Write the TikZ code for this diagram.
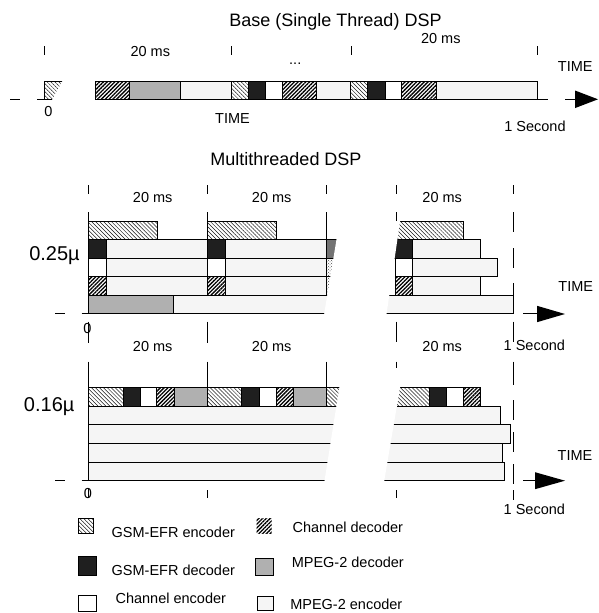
\documentclass[tikz,border=0pt]{standalone}
\usepackage{fontspec}
\setmainfont{Liberation Sans}
\usetikzlibrary{patterns,patterns.meta}
\begin{document}
\begin{tikzpicture}[x=1pt,y=-1pt,
  blk/.style={draw=black,line width=0.8pt},
  gsmenc/.style={blk,pattern={Lines[angle=-45,distance=2.8pt,line width=0.5pt]},pattern color=black!90},
  chdec/.style={blk,pattern={Lines[angle=45,distance=2.7pt,line width=1.3pt]},pattern color=black},
  gsmdec/.style={blk,fill=black!88},
  chenc/.style={blk,fill=white},
  mpdec/.style={blk,fill=black!31},
  mpenc/.style={blk,fill=black!4},
  dkgray/.style={blk,fill=black!55},
  xdots/.style={blk,pattern=crosshatch dots,pattern color=black!70},
  cut/.style={fill=white,draw=none},
  guide/.style={line width=0.9pt},
  axl/.style={line width=0.9pt},
  arrowtri/.style={fill=black},
  lbl/.style={anchor=base,inner sep=0pt,font=\fontsize{14.5}{17}\selectfont},
  ttl/.style={anchor=base,inner sep=0pt,font=\fontsize{18}{21}\selectfont},
  mul/.style={anchor=base,inner sep=0pt,font=\fontsize{20}{23}\selectfont}]
\useasboundingbox (0,0) rectangle (599,613);
\fill[white] (0,0) rectangle (599,613);

% ---------------- Base (single thread) ----------------
\draw[gsmenc] (44,81.5) rectangle (70,99.3);
\fill[cut] (63.5,79) -- (93,79) -- (93,101) -- (51.5,101) -- cycle;
\foreach \s/\a/\b in {chdec/95/129.3, mpdec/129.3/180.3, mpenc/180.3/231.3,
  gsmenc/231.3/248.3, gsmdec/248.3/265.7, chenc/265.7/282.7, chdec/282.7/316.7,
  mpenc/316.7/350.7, gsmenc/350.7/367.7, gsmdec/367.7/385, chenc/385/401.7,
  chdec/401.7/436.7, mpenc/436.7/537.7}
  \draw[\s] (\a,81.5) rectangle (\b,99.3);
\draw[axl] (10,99.3) -- (20,99.3) (37,99.3) -- (44,99.3)
  (537.7,99.3) -- (548,99.3) (565,99.3) -- (575,99.3);
\fill[arrowtri] (575,90.5) -- (598,99.3) -- (575,108.1) -- cycle;
\foreach \x in {44,231.3,351,537.7} \draw[guide] (\x,46) -- (\x,55);

% ---------------- Multithreaded 0.25 ----------------
% group 1
\draw[gsmenc] (88.3,221) rectangle (157.3,239.3);
\draw[gsmdec] (88.3,239.3) rectangle (106,258.3);
\draw[mpenc] (106,239.3) rectangle (207.3,258.3);
\draw[chenc] (88.3,258.3) rectangle (106,276.7);
\draw[mpenc] (106,258.3) rectangle (207.3,276.7);
\draw[chdec] (88.3,276.7) rectangle (106,295);
\draw[mpenc] (106,276.7) rectangle (207.3,295);
\draw[mpdec] (88.3,295) rectangle (173.3,313.3);
\draw[mpenc] (173.3,295) rectangle (360,313.3);
% group 2
\draw[gsmenc] (207.3,221) rectangle (276,239.3);
\draw[gsmdec] (207.3,239.3) rectangle (225.7,258.3);
\draw[mpenc] (225.7,239.3) rectangle (326.7,258.3);
\draw[dkgray] (326.7,239.3) rectangle (360,258.3);
\draw[chenc] (207.3,258.3) rectangle (225.7,276.7);
\draw[mpenc] (225.7,258.3) rectangle (326.7,276.7);
\draw[xdots] (326.7,258.3) rectangle (360,276.7);
\draw[chdec] (207.3,276.7) rectangle (225.7,295);
\draw[mpenc] (225.7,276.7) rectangle (326.7,295);
\draw[xdots] (326.7,276.7) rectangle (360,295);
% group 3
\draw[gsmenc] (380,221) rectangle (463.3,239.3);
\draw[gsmdec] (380,239.3) rectangle (412.7,258.3);
\draw[mpenc] (412.7,239.3) rectangle (480.7,258.3);
\draw[chenc] (395.7,258.3) rectangle (412.7,276.7);
\draw[mpenc] (412.7,258.3) rectangle (497.3,276.7);
\draw[chdec] (395.7,276.7) rectangle (412.7,295);
\draw[mpenc] (412.7,276.7) rectangle (480.7,295);
\draw[mpenc] (375,295) rectangle (513.3,313.3);
\fill[cut] (339.8,219.5) -- (400.3,219.5) -- (386.4,315) -- (324,315) -- cycle;
\draw[axl] (55,313.3) -- (65,313.3) (81.7,313.3) -- (88.3,313.3) (523.3,313.3) -- (537,313.3);
\fill[arrowtri] (537,305.8) -- (565,314) -- (537,322.2) -- cycle;

% ---------------- Multithreaded 0.16 ----------------
\foreach \s/\a/\b in {gsmenc/88.3/123.3, gsmdec/123.3/140, chenc/140/156.7,
  chdec/156.7/174, mpdec/174/207.3, gsmenc/207.3/241.7, gsmdec/241.7/259.3,
  chenc/259.3/276, chdec/276/293.3, mpdec/293.3/326.7, gsmenc/326.7/360,
  gsmenc/380/429.3, gsmdec/429.3/446.7, chenc/446.7/463.3, chdec/463.3/480.7}
  \draw[\s] (\a,387.7) rectangle (\b,406);
\foreach \a/\b in {406/424.7, 424.7/443.3, 443.3/462, 462/480.7}
  \draw[mpenc] (88.3,\a) rectangle (360,\b);
\draw[mpenc] (375,406) rectangle (500,424.7);
\draw[mpenc] (375,424.7) rectangle (510,443.3);
\draw[mpenc] (375,443.3) rectangle (502.7,462);
\draw[mpenc] (375,462) rectangle (504,480.7);
\fill[cut] (339.5,386.3) -- (400.2,386.3) -- (384,482.2) -- (324.3,482.2) -- cycle;
\draw[axl] (55,480.7) -- (65,480.7) (81.7,480.7) -- (88.3,480.7) (523.3,480.7) -- (535,480.7);
\fill[arrowtri] (535,472.2) -- (565,480.7) -- (535,489.2) -- cycle;

% ---------------- guide lines ----------------
\foreach \x/\a/\b in {
  88.3/185/194, 88.3/212/221, 88.3/321.7/343, 88.3/361.7/387.7, 88.3/488/498,
  207.3/185/194, 207.3/212/221, 207.3/321.7/343, 207.3/361.7/387.7, 207.3/490/498,
  326.7/185/194, 326.7/212/239.3, 326.7/361.7/387.7,
  396/185/194, 396/212/221, 396/321.7/342, 396/361.7/368, 396/490/498,
  513.3/185/194, 513.3/212/232, 513.3/248/268, 513.3/283/303, 513.3/321.7/342,
  513.3/361.7/385, 513.3/400/420, 513.3/432/452, 513.3/464/484, 513.3/490/500}
  \draw[guide] (\x,\a) -- (\x,\b);

% ---------------- texts ----------------
\node[ttl] (t1) at (335.5,26.3) {Base (Single Thread) DSP};
\node[lbl] (a1) at (150.3,56.7) {20 ms};
\node[lbl] (a2) at (440.8,43.3) {20 ms};
\node[lbl,anchor=base west] (dots) at (289,64.5) {...};
\node[lbl] (tm1) at (575.3,71.7) {TIME};
\node[lbl] (z1) at (48.3,116.7) {0};
\node[lbl] (tm0) at (232.5,123.2) {TIME};
\node[lbl] (s1) at (535,131.7) {1 Second};

\node[ttl] (t2) at (286,165) {Multithreaded DSP};
\node[lbl] (b1) at (152.7,202.3) {20 ms};
\node[lbl] (b2) at (271.7,202.3) {20 ms};
\node[lbl] (b3) at (442.2,202.3) {20 ms};
\node[mul] (m1) at (54.5,260.7) {0.25µ};
\node[lbl] (tm2) at (575.8,291.7) {TIME};
\node[lbl] (z2) at (87.5,333.3) {0};

\node[lbl] (c1) at (152.7,351) {20 ms};
\node[lbl] (c2) at (271.7,351) {20 ms};
\node[lbl] (c3) at (442.2,351) {20 ms};
\node[lbl,anchor=base west] (s2) at (503.5,350) {1 Second};
\node[mul] (m2) at (49.2,411.7) {0.16µ};
\node[lbl] (tm3) at (575,460) {TIME};
\node[lbl] (z3) at (88,498) {0};
\node[lbl,anchor=base west] (s3) at (503.5,514) {1 Second};

% ---------------- legend ----------------
\draw[gsmenc,line width=0.5pt] (78.3,518.3) rectangle (93.3,533.3);
\fill[pattern={Lines[angle=45,distance=2.7pt,line width=1.3pt]}] (256.7,518.3) rectangle (271.7,533.3);
\draw[gsmdec] (78.3,556) rectangle (96.7,575);
\draw[mpdec] (255,558.3) rectangle (273.3,575);
\draw[chenc] (78.3,595) rectangle (96.7,611);
\draw[mpenc] (257.3,596) rectangle (273.3,610.5);
\node[lbl] (l1) at (173.3,537.3) {GSM-EFR encoder};
\node[lbl] (l2) at (347.8,532.7) {Channel decoder};
\node[lbl] (l3) at (173.3,575) {GSM-EFR decoder};
\node[lbl] (l4) at (347.8,567.3) {MPEG-2 decoder};
\node[lbl] (l5) at (170.8,603.3) {Channel encoder};
\node[lbl] (l6) at (346.3,609.8) {MPEG-2 encoder};
\end{tikzpicture}
\end{document}
